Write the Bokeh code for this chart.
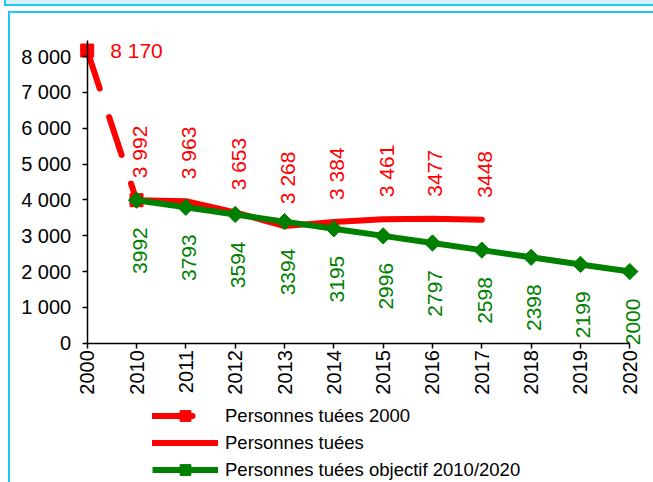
import math
from bokeh.plotting import figure
from bokeh.models import Range1d, Legend, LegendItem, ColumnDataSource
from bokeh.core.properties import value
from bokeh.embed import file_html
from bokeh.resources import INLINE

# ---- data ----
years = ["2000", "2010", "2011", "2012", "2013", "2014", "2015",
         "2016", "2017", "2018", "2019", "2020"]

tues2000_years = ["2000", "2010"]
tues2000 = [8170, 3992]
tues2000_labels = ["8 170", ""]

tues_years = ["2010", "2011", "2012", "2013", "2014", "2015", "2016", "2017"]
tues = [3992, 3963, 3653, 3268, 3384, 3461, 3477, 3448]
tues_labels = ["3 992", "3 963", "3 653", "3 268", "3 384", "3 461", "3477", "3448"]

obj_years = ["2010", "2011", "2012", "2013", "2014", "2015", "2016",
             "2017", "2018", "2019", "2020"]
obj = [3992, 3793, 3594, 3394, 3195, 2996, 2797, 2598, 2398, 2199, 2000]
obj_labels = ["3992", "3793", "3594", "3394", "3195", "2996", "2797",
              "2598", "2398", "2199", "2000"]

y_ticks = [0, 1000, 2000, 3000, 4000, 5000, 6000, 7000, 8000]
y_tick_labels = ["0", "1 000", "2 000", "3 000", "4 000", "5 000",
                 "6 000", "7 000", "8 000"]
y_axis_max = 8450

series_names = ["Personnes tuées 2000", "Personnes tuées",
                "Personnes tuées objectif 2010/2020"]

RED = "#FF0000"
GREEN = "#008000"
CYAN = "#1CC6F5"
FONT = "Liberation Sans"

pos = {y: i for i, y in enumerate(years)}

src2000 = ColumnDataSource(dict(x=[pos[y] for y in tues2000_years], y=tues2000, t=tues2000_labels))
srcT = ColumnDataSource(dict(x=[pos[y] for y in tues_years], y=tues, t=tues_labels))
srcO = ColumnDataSource(dict(x=[pos[y] for y in obj_years], y=obj, t=obj_labels))

# the plotting frame covers the whole canvas; axes sit at fixed data positions
p = figure(width=653, height=482,
           x_range=Range1d(-1.7577, 11.4805), y_range=Range1d(-3889, 9567),
           output_backend="svg", toolbar_location=None,
           min_border_left=0, min_border_right=0, min_border_top=0, min_border_bottom=0)
p.outline_line_color = None
p.xgrid.visible = False
p.ygrid.visible = False
p.background_fill_color = None
p.border_fill_color = None

# light-blue frame of the original sheet, drawn as CSS background behind the canvas
p.styles = {
    "background-color": "white",
    "background-image": ", ".join([f"linear-gradient({CYAN}, {CYAN})"] * 4
                                  + ["linear-gradient(#D4F3FC, #D4F3FC)"]),
    "background-position": "4px 0px, 4px 4px, 8px 11px, 8px 11px, 6px 0px",
    "background-size": "2px 6px, 100% 2px, 100% 2px, 2px 100%, 100% 4px",
    "background-repeat": "no-repeat",
}

# x axis
p.xaxis.ticker = list(range(len(years)))
p.xaxis.major_label_overrides = {i: y for i, y in enumerate(years)}
p.xaxis.major_label_orientation = math.pi / 2
p.xaxis.bounds = (0, len(years) - 1)
p.xaxis.fixed_location = 0
p.xaxis.major_label_standoff = 2

# y axis
p.yaxis.ticker = y_ticks
p.yaxis.major_label_overrides = {v: l for v, l in zip(y_ticks, y_tick_labels)}
p.yaxis.bounds = (0, y_axis_max)
p.yaxis.fixed_location = 0
p.yaxis.major_label_standoff = 11

for ax in (p.xaxis, p.yaxis):
    ax.axis_line_color = "black"
    ax.axis_line_width = 1.5
    ax.major_tick_out = 5
    ax.major_tick_in = 0
    ax.major_tick_line_color = "black"
    ax.major_tick_line_width = 1.5
    ax.minor_tick_line_color = None
    ax.major_label_text_font = FONT
    ax.major_label_text_font_size = "20px"
    ax.major_label_text_color = "black"

# series
r_d = p.line("x", "y", source=src2000, line_color=RED, line_width=6,
             line_dash="40 30", line_cap="round")
r_ds = p.scatter("x", "y", source=src2000, marker="square", size=13,
                 fill_color=RED, line_color=RED)
r_t = p.line("x", "y", source=srcT, line_color=RED, line_width=6,
             line_join="round", line_cap="round")
r_o = p.line("x", "y", source=srcO, line_color=GREEN, line_width=6,
             line_join="round")
r_om = p.scatter("x", "y", source=srcO, marker="square", angle=math.pi / 4,
                 size=11.5, fill_color=GREEN, line_color=GREEN)

# data labels
p.text("x", "y", text="t", source=src2000, text_color=RED,
       text_font=value(FONT), text_font_size="21px",
       text_align="left", text_baseline="middle", x_offset=23)
p.text("x", "y", text="t", source=srcT, text_color=RED, angle=math.pi / 2,
       text_font=value(FONT), text_font_size="21px",
       text_align="left", text_baseline="middle", x_offset=3, y_offset=-22)
p.text("x", "y", text="t", source=srcO, text_color=GREEN, angle=math.pi / 2,
       text_font=value(FONT), text_font_size="21px",
       text_align="right", text_baseline="middle", x_offset=3, y_offset=27)

legend = Legend(items=[
    LegendItem(label=series_names[0], renderers=[r_d, r_ds]),
    LegendItem(label=series_names[1], renderers=[r_t]),
    LegendItem(label=series_names[2], renderers=[r_o, r_om]),
], location=(152, -1), orientation="vertical",
    glyph_width=66, glyph_height=27, label_height=27, label_standoff=7,
    spacing=0, padding=0, margin=0,
    label_text_font=FONT, label_text_font_size="18.5px", label_text_color="black",
    background_fill_alpha=0, border_line_alpha=0)
p.add_layout(legend, "center")

open("out.html", "w").write(file_html(p, INLINE))
